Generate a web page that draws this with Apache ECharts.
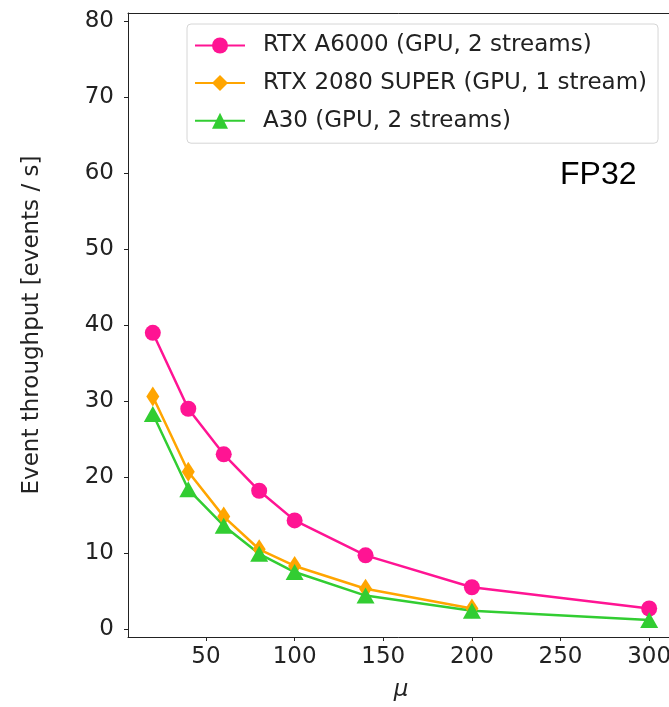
<!DOCTYPE html>
<html>
<head>
<meta charset="utf-8">
<script src="https://cdn.jsdelivr.net/npm/echarts@6/dist/echarts.min.js"></script>
<style>
  html, body { margin: 0; padding: 0; background: #fff; }
  #chart { width: 669px; height: 707px; }
</style>
</head>
<body>
<div id="chart"></div>
<script>
// pile-up values on the x axis
var muValues = [20, 40, 60, 80, 100, 140, 200, 300];
// throughput, events / s
var a6000 = [39.0, 29.0, 23.0, 18.2, 14.3, 9.7, 5.5, 2.7];
var rtx2080 = [30.6, 20.7, 14.8, 10.5, 8.3, 5.3, 2.7];
var a30 = [28.3, 18.4, 13.6, 9.9, 7.5, 4.4, 2.4, 1.2];
var xTicks = [50, 100, 150, 200, 250, 300];
var yTicks = [0, 10, 20, 30, 40, 50, 60, 70, 80];
var seriesNames = ['RTX A6000 (GPU, 2 streams)', 'RTX 2080 SUPER (GPU, 1 stream)', 'A30 (GPU, 2 streams)'];

function pairs(vals){
  var out = [];
  for (var i = 0; i < vals.length; i++)
    out.push([muValues[i], vals[i]]);
  return out;
}

var font = 'DejaVu Sans';
var ink = '#222';

function lineSeries(name, vals, color, symbol, size){
  return {
    name: name,
    type: 'line',
    data: pairs(vals),
    symbol: symbol,
    symbolSize: size,
    showAllSymbol: true,
    lineStyle: { color: color, width: 2.5 },
    itemStyle: { color: color },
    emphasis: { disabled: true },
    animation: false
  };
}

var myChart = echarts.init(document.getElementById('chart'));
var option = {
  backgroundColor: '#fff',
  grid: {
    left: 128, top: 13, width: 546, height: 624,
    outerBoundsMode: 'none'
  },
  legend: {
    orient: 'vertical',
    left: 187, top: 24,
    padding: [10, 11, 11, 7],
    itemWidth: 50, itemHeight: 20,
    itemGap: 14.6,
    backgroundColor: 'rgba(255,255,255,0.8)',
    borderColor: '#d6d6d6', borderWidth: 1, borderRadius: 4,
    textStyle: { fontFamily: font, fontSize: 23, lineHeight: 23, color: ink, padding: [0, 0, 0, 13] },
    data: seriesNames
  },
  xAxis: [{
    type: 'value',
    min: 6, max: 314,
    name: 'μ',
    nameLocation: 'middle',
    nameGap: 42,
    nameTextStyle: { fontFamily: font, fontSize: 23, fontStyle: 'italic', color: ink },
    axisLine: { onZero: false, lineStyle: { color: ink, width: 1 } },
    axisTick: { show: true, length: 4, customValues: xTicks, lineStyle: { color: ink } },
    axisLabel: { customValues: xTicks, fontFamily: font, fontSize: 23, color: ink, margin: 9 },
    splitLine: { show: false }
  }, {
    // top spine only
    type: 'value',
    position: 'top',
    min: 6, max: 314,
    axisLine: { show: true, onZero: false, lineStyle: { color: ink, width: 1 } },
    axisTick: { show: false },
    axisLabel: { show: false },
    splitLine: { show: false }
  }],
  yAxis: {
    type: 'value',
    min: -1.05, max: 81.1,
    name: 'Event throughput [events / s]',
    nameLocation: 'middle',
    nameGap: 84,
    nameTextStyle: { fontFamily: font, fontSize: 23, color: ink },
    axisLine: { show: true, onZero: false, lineStyle: { color: ink, width: 1 } },
    axisTick: { show: true, length: 4, customValues: yTicks, lineStyle: { color: ink } },
    axisLabel: { customValues: yTicks, fontFamily: font, fontSize: 23, color: ink, margin: 14 },
    splitLine: { show: false }
  },
  graphic: [{
    type: 'text',
    left: 560, top: 159,
    style: { text: 'FP32', font: '32px "Liberation Sans"', fill: '#000' }
  }],
  series: [
    lineSeries(seriesNames[0], a6000, '#ff1493', 'circle', 16),
    lineSeries(seriesNames[1], rtx2080, '#ffa500', 'diamond', [13, 20]),
    lineSeries(seriesNames[2], a30, '#32cd32', 'triangle', [18, 16])
  ]
};
myChart.setOption(option);
</script>
</body>
</html>
